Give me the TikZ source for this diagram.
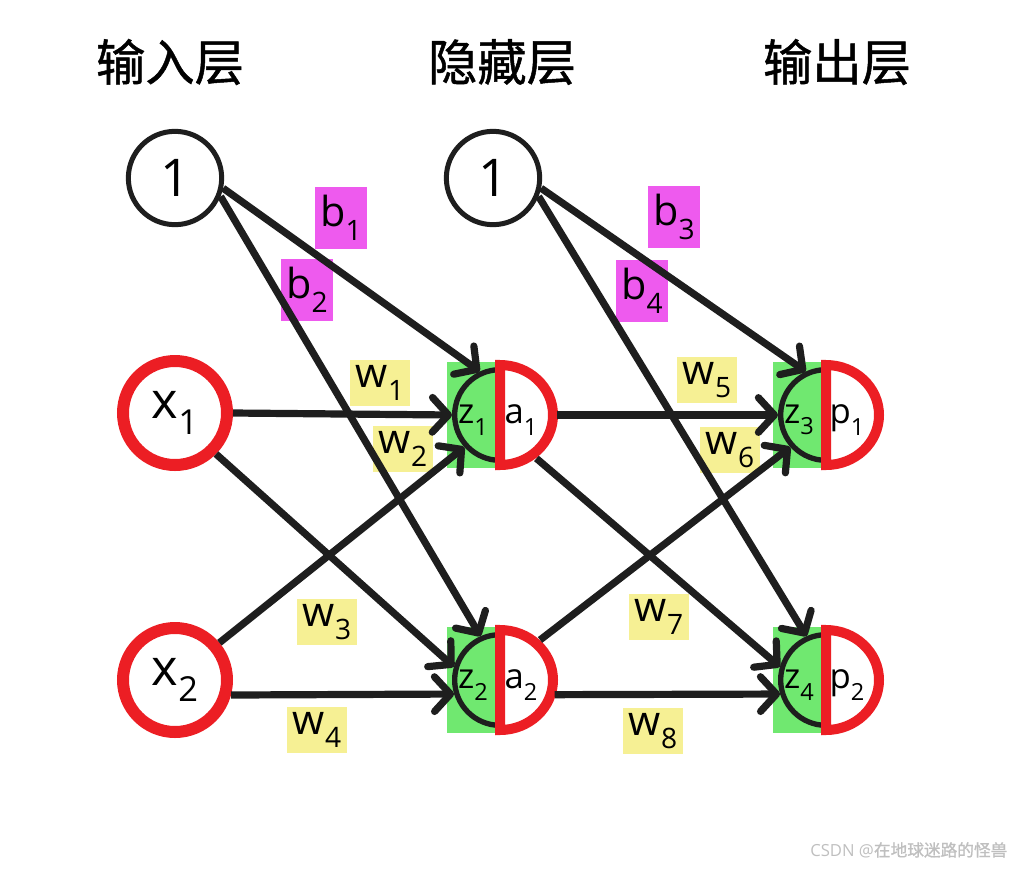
\documentclass[tikz,border=0pt]{standalone}
\usepackage{fontspec}
\setmainfont{Open Sans}
\newfontfamily\cjk{Noto Sans CJK SC}[FakeBold=1]
\usepackage{tikz}
\usetikzlibrary{positioning,calc}
\usetikzlibrary{arrows.meta}
\definecolor{NetRed}{RGB}{236,30,36}
\definecolor{NetGreen}{RGB}{112,232,112}
\definecolor{BiasPink}{RGB}{238,90,238}
\definecolor{WeightYellow}{RGB}{246,240,148}
\definecolor{InkBlack}{RGB}{30,30,30}
\newcommand{\idx}[1]{\raisebox{-.33em}{\scalebox{.68}{#1}}}
\tikzset{
	unit/.style={circle,draw=InkBlack,line width=3.75pt,minimum size=70pt,inner sep=0pt,
		font=\fontsize{39}{40}\selectfont},
	inp/.style={circle,draw=NetRed,line width=9pt,minimum size=78pt,inner sep=0pt,
		font=\fontsize{38}{40}\selectfont},
	neuron/.style={circle,draw=InkBlack,fill=NetGreen,line width=4pt,minimum size=68pt,inner sep=0pt},
	half/.style={draw=NetRed,fill=white,line width=7.5pt},
	rim/.style={circle,minimum size=85pt,inner sep=0pt,outer sep=0pt},
	part/.style={inner sep=0pt,font=\fontsize{26}{28}\selectfont},
	edge/.style={draw=InkBlack,line width=5.4pt,-{Straight Barb[length=12pt,width=26pt,round]}},
	wlabel/.style={fill=WeightYellow,inner sep=0pt,minimum width=45pt,minimum height=34pt,
		font=\fontsize{31}{32}\selectfont},
	blabel/.style={fill=BiasPink,inner sep=0pt,minimum width=39pt,minimum height=46pt,
		font=\fontsize{31}{32}\selectfont},
	layer/.style={font=\cjk\fontsize{37}{40}\selectfont},
}

\begin{document}
\begin{tikzpicture}[x=0.75pt,y=-0.75pt]
	\useasboundingbox (0,0) rectangle (1027,868);
	\node[layer] (tin) at (170,62) {输入层};
	\node[layer] (thid) at (502,62) {隐藏层};
	\node[layer] (tout) at (837,62) {输出层};
	\foreach \n/\xx/\yy in {1/380/383,2/403/449,3/327/622,4/317/730,5/707/380,6/730/450,7/659/617,8/653/731}
	\node[wlabel] (w\n) at (\xx,\yy) {w\idx{\n}};
	\foreach \n/\xx/\yy in {1/341/218,2/307/290,3/674/217,4/642/291}
	\node[blabel] (b\n) at (\xx,\yy) {b\idx{\n}};
	\node[unit] (in1) at (175,178) {1};
	\node[unit] (hb1) at (493,178) {1};
	\node[inp] (x1) at (175,413) {x\idx{1}};
	\node[inp] (x2) at (175,680) {x\idx{2}};
	\foreach \n/\xx/\yy/\i/\l/\j in {h1/500/415/1/a/1,h2/500/680/2/a/2,o1/826/415/3/p/1,o2/826/680/4/p/2}{
		\fill[NetGreen] (\xx-53,\yy-53) rectangle (\xx,\yy+53);
		\node[neuron] (\n) at (\xx,\yy) {};
		\draw[half] (\xx,\yy-50) arc[start angle=-90,end angle=90,x radius=53,y radius=50] -- cycle;
		\node[rim] (\n r) at (\xx,\yy) {};
		\node[part] (\n z) at (\xx-27,\yy+5) {z\idx{\i}};
		\node[part] (\n a) at (\xx+21,\yy+5) {\l\idx{\j}};
	}
	\foreach \s/\t in {in1.-12/h1.115,in1.-22/h2.114,x1.0/h1.180,x1.-45/h2.164,x2.40/h1.222,x2.-15/h2.197,
		hb1.-12/o1.115,hb1.-22/o2.114,h1r.0/o1.180,h1r.-50/o2.164,h2r.45/o1.222,h2r.-15/o2.197}
	\draw[edge] (\s) -- (\t);
	\node[anchor=east,text=black!25,font=\fontsize{12.5}{14}\selectfont] (mark) at (1012,850) {CSDN @{\cjk 在地球迷路的怪兽}};
\end{tikzpicture}
\end{document}
